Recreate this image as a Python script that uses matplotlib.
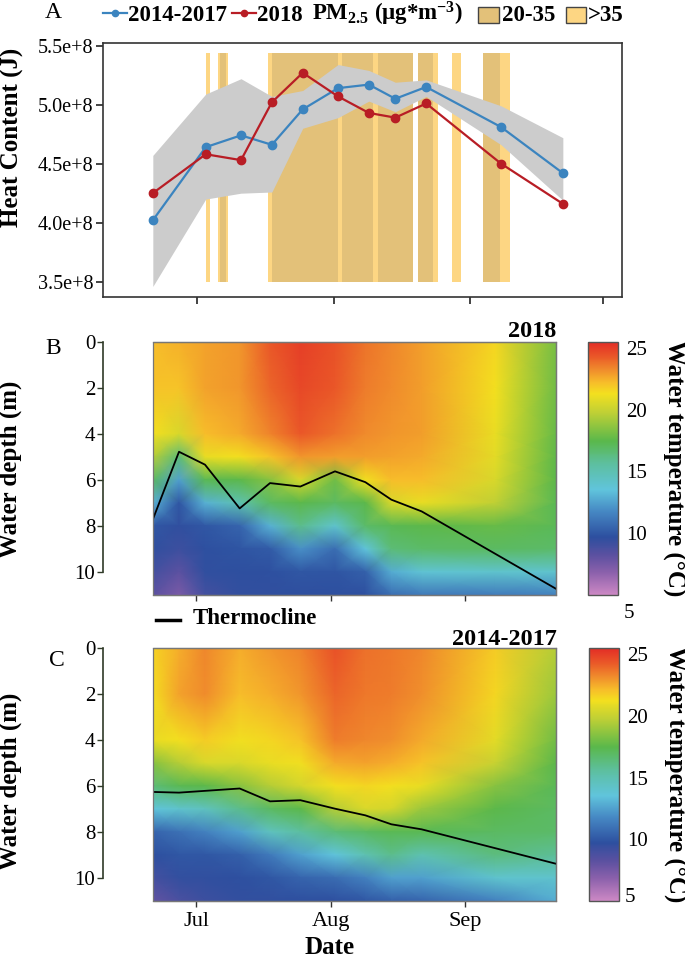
import numpy as np
import pandas as pd
import matplotlib
matplotlib.use("Agg")
import matplotlib.pyplot as plt
import matplotlib.dates as mdates
import matplotlib.transforms as mtransforms
from matplotlib.colors import LinearSegmentedColormap, Normalize
from matplotlib.lines import Line2D
from matplotlib.patches import Rectangle

plt.rcParams['font.family'] = ['Liberation Serif', 'DejaVu Serif']
plt.rcParams['mathtext.fontset'] = 'custom'
plt.rcParams['mathtext.rm'] = 'Liberation Serif:bold'
plt.rcParams['mathtext.it'] = 'Liberation Serif:italic:bold'
plt.rcParams['mathtext.bf'] = 'Liberation Serif:bold'

# ---------------- Panel A data ----------------
sample_dates = ["2018-06-21", "2018-07-03", "2018-07-11", "2018-07-18", "2018-07-25", "2018-08-02",
                "2018-08-09", "2018-08-15", "2018-08-22", "2018-09-08", "2018-09-22"]
heat_2014_2017 = [4.02, 4.64, 4.74, 4.66, 4.96, 5.14, 5.17, 5.05, 5.15, 4.81, 4.42]   # x1e8 J
heat_2018 = [4.25, 4.58, 4.53, 5.02, 5.27, 5.07, 4.93, 4.89, 5.01, 4.50, 4.16]        # x1e8 J
band_upper = [4.57, 5.09, 5.22, 5.07, 5.12, 5.34, 5.29, 5.19, 5.21, 4.99, 4.72]
band_lower = [3.46, 4.20, 4.25, 4.26, 4.80, 4.89, 5.03, 4.94, 5.07, 4.66, 4.19]

# PM2.5 episodes: start / end (days after 2018-07-01) and class
pm_start = [2.0, 4.85, 5.3, 6.6, 16.05, 17.1, 32.05, 32.8, 40.0, 41.0, 50.1, 53.6, 57.9, 64.95, 68.8]
pm_end = [2.9, 5.3, 6.6, 7.0, 17.1, 32.05, 32.8, 40.0, 41.0, 49.1, 53.6, 54.75, 59.9, 68.8, 71.0]
pm_class = [">35", ">35", "20-35", ">35", ">35", "20-35", ">35", "20-35", ">35", "20-35",
            "20-35", ">35", ">35", "20-35", ">35"]
pm_ymin, pm_ymax = 3.5, 5.44

# ---------------- Panels B / C data ----------------
heat_dates = ["2018-06-21", "2018-06-27", "2018-07-03", "2018-07-11", "2018-07-18", "2018-07-25",
              "2018-08-02", "2018-08-09", "2018-08-15", "2018-08-22", "2018-09-08", "2018-09-22"]
depths = [0, 2, 4, 5, 6, 7, 8, 9, 10, 11]

temp_2018 = [
    [22.2, 22.0, 21.3, 19.5, 17.0, 13.0, 10.0, 9.6, 9.0, 8.2],
    [22.4, 22.0, 20.5, 16.5, 12.5, 10.0, 9.6, 9.2, 8.2, 7.3],
    [22.7, 22.7, 22.2, 21.0, 17.3, 13.0, 10.0, 9.8, 9.6, 9.0],
    [23.0, 23.0, 22.6, 21.3, 17.5, 15.0, 10.5, 9.9, 9.7, 9.5],
    [24.3, 24.0, 23.4, 22.0, 18.5, 17.0, 13.0, 10.2, 9.8, 9.6],
    [25.0, 24.7, 24.3, 23.0, 20.5, 17.5, 16.0, 12.0, 10.0, 9.7],
    [24.5, 24.3, 23.8, 22.8, 18.0, 17.0, 14.0, 10.8, 9.9, 9.7],
    [23.7, 23.5, 23.2, 22.8, 21.2, 17.5, 16.8, 13.5, 10.3, 9.8],
    [23.3, 23.2, 23.0, 22.7, 22.2, 20.5, 17.3, 16.5, 12.8, 10.8],
    [22.8, 22.8, 22.8, 22.6, 22.2, 21.0, 17.5, 16.8, 13.8, 11.2],
    [21.5, 21.3, 21.0, 20.8, 20.5, 19.8, 17.8, 17.0, 14.0, 11.3],
    [18.2, 18.0, 17.8, 17.6, 17.5, 17.3, 17.2, 16.8, 14.0, 11.5],
]
temp_2014_2017 = [
    [21.6, 21.4, 21.0, 18.5, 16.5, 13.5, 10.5, 9.8, 9.0, 8.0],
    [22.5, 22.7, 21.3, 19.5, 17.3, 14.0, 11.0, 10.0, 9.5, 8.7],
    [23.3, 23.2, 21.8, 20.5, 17.5, 14.5, 11.5, 10.0, 9.6, 9.2],
    [22.5, 22.2, 21.2, 20.5, 18.5, 16.0, 12.5, 10.3, 9.8, 9.5],
    [23.0, 22.5, 21.5, 21.0, 19.5, 17.0, 14.5, 11.3, 10.0, 9.6],
    [23.4, 23.0, 22.0, 21.2, 20.3, 17.5, 15.5, 12.5, 10.5, 9.7],
    [24.5, 24.0, 23.5, 22.6, 21.3, 19.5, 16.5, 13.5, 10.8, 9.8],
    [23.8, 23.6, 23.3, 22.7, 21.5, 20.5, 17.0, 15.0, 11.5, 10.0],
    [23.6, 23.5, 23.1, 22.5, 21.3, 20.3, 17.3, 16.0, 12.5, 10.3],
    [23.3, 23.1, 22.6, 22.0, 21.0, 19.0, 17.3, 15.0, 12.5, 10.5],
    [21.8, 21.5, 20.8, 20.0, 18.5, 17.5, 17.0, 16.3, 14.0, 11.5],
    [19.5, 19.0, 18.0, 17.5, 17.2, 17.0, 16.8, 15.8, 14.0, 12.8],
]

thermo_2018_dates = ["2018-06-21", "2018-06-27", "2018-07-03", "2018-07-11", "2018-07-18", "2018-07-25",
                     "2018-08-02", "2018-08-09", "2018-08-15", "2018-08-22", "2018-09-22"]
thermo_2018 = [7.70, 4.78, 5.34, 7.24, 6.14, 6.29, 5.63, 6.10, 6.86, 7.37, 10.73]
thermo_clim_dates = ["2018-06-21", "2018-06-27", "2018-07-11", "2018-07-18", "2018-07-25",
                     "2018-08-02", "2018-08-09", "2018-08-15", "2018-08-22", "2018-09-22"]
thermo_clim = [6.26, 6.29, 6.11, 6.67, 6.62, 6.99, 7.28, 7.67, 7.89, 9.39]

month_ticks = ["2018-07-01", "2018-08-01", "2018-09-01"]
month_labels = ["Jul", "Aug", "Sep"]
colorbar_ticks = [10, 15, 20, 25]

# ---------------- styles ----------------
C_BLUE = "#3b84bf"
C_RED = "#b81d25"
C_TAN = "#e3c179"
C_LIGHT = "#fdd683"
C_BAND = "#cccccc"
cmap_nodes = [(5.0, "#cc88c4"), (6.8, "#8a60ab"), (8.2, "#5a50a0"), (9.7, "#2d4f9f"), (11.8, "#4689c4"),
              (13.5, "#60c4dc"), (15.6, "#5dbf9f"), (17.5, "#5ab84b"), (19.8, "#c0d035"),
              (21.3, "#f3e01f"), (22.2, "#f7bd2a"), (23.2, "#f08d2c"), (24.3, "#ea5a28"), (25.5, "#e32d26")]
VMIN, VMAX = 5.0, 25.5
cmap = LinearSegmentedColormap.from_list(
    "wt", [((v - VMIN) / (VMAX - VMIN), c) for v, c in cmap_nodes])
norm = Normalize(VMIN, VMAX)

W, H = 685, 960
fig = plt.figure(figsize=(W / 100, H / 100), dpi=100)


def rect(l, t, r, b):
    return [l / W, 1 - b / H, (r - l) / W, (b - t) / H]


def fx(x):
    return x / W


def fy(y):
    return 1 - y / H


def dnum(s):
    return mdates.date2num(pd.to_datetime(s))


# ---------------- Panel A ----------------
axA = fig.add_axes(rect(103, 42.7, 621.7, 296.7))
base = dnum("2018-07-01")
for s, e, c in zip(pm_start, pm_end, pm_class):
    axA.bar(base + s, (pm_ymax - pm_ymin) * 1e8, width=e - s, bottom=pm_ymin * 1e8, align='edge',
            color=C_TAN if c == "20-35" else C_LIGHT, lw=0, zorder=1)
xd = dnum(sample_dates)
axA.fill_between(xd, np.array(band_lower) * 1e8, np.array(band_upper) * 1e8, color=C_BAND, lw=0, zorder=2)
axA.plot(xd, np.array(heat_2014_2017) * 1e8, '-o', color=C_BLUE, lw=1.6, ms=6, zorder=4)
axA.plot(xd, np.array(heat_2018) * 1e8, '-o', color=C_RED, lw=1.6, ms=6, zorder=5)
axA.set_xlim(base - 21.3, base + 96.35)
axA.set_ylim(3.373e8, 5.525e8)
yt = [3.5e8, 4.0e8, 4.5e8, 5.0e8, 5.5e8]
axA.set_yticks(yt)
axA.set_yticklabels([f"{v / 1e8:.1f}e+8" for v in yt])
axA.set_xticks(dnum(["2018-07-01", "2018-08-01", "2018-09-01", "2018-10-01"]))
axA.set_xticklabels([])
axA.tick_params(axis='both', direction='out', length=5, width=1.2, color='#222222', pad=2, labelsize=14.5)
for sp in axA.spines.values():
    sp.set_color('#333333')
    sp.set_linewidth(1.2)

# legend of panel A (figure-level)
ly = 13
fig.add_artist(Line2D([fx(102.7), fx(126.7)], [fy(ly), fy(ly)], color=C_BLUE, lw=1.6))
fig.add_artist(Line2D([fx(114.7)], [fy(ly)], marker='o', color=C_BLUE, ms=4.5))
fig.text(fx(128.3), fy(21), "2014-2017", fontsize=16.5, fontweight='bold', va='baseline')
fig.add_artist(Line2D([fx(231.7), fx(255.7)], [fy(ly), fy(ly)], color=C_RED, lw=1.6))
fig.add_artist(Line2D([fx(243.7)], [fy(ly)], marker='o', color=C_RED, ms=4.5))
fig.text(fx(256.7), fy(21), "2018", fontsize=16.5, fontweight='bold', va='baseline')
fig.text(fx(311.7), fy(21), r"PM$_{2.5}$ (μg*m$^{-3}$)", fontsize=16.5, fontweight='bold', va='baseline')
fig.add_artist(Rectangle((fx(478.3), fy(23.3)), fx(20.7), 16.6 / H, facecolor=C_TAN,
                         edgecolor='#444444', lw=1.0, transform=fig.transFigure))
fig.text(fx(501.7), fy(21), "20-35", fontsize=16.5, fontweight='bold', va='baseline')
fig.add_artist(Rectangle((fx(565.7), fy(23.3)), fx(20.0), 16.6 / H, facecolor=C_LIGHT,
                         edgecolor='#444444', lw=1.0, transform=fig.transFigure))
fig.text(fx(588.3), fy(21), ">35", fontsize=16.5, fontweight='bold', va='baseline')

# ---------------- Panels B / C ----------------
X, Y = np.meshgrid(dnum(heat_dates), depths)


def heat_panel(box, cbox, temps, tdates, tdepth, show_labels, five_offset):
    ax = fig.add_axes(rect(*box))
    ax.spines['left'].set_position(('outward', 35.8))
    ax.spines['left'].set_bounds(0, 10)
    ax.spines['left'].set_color('#2f3a28')
    ax.spines['left'].set_linewidth(1.2)
    for k in ['top', 'right', 'bottom']:
        ax.spines[k].set_color('#777777')
        ax.spines[k].set_linewidth(0.9)
    m = ax.pcolormesh(X, Y, np.array(temps).T, shading='gouraud', cmap=cmap, norm=norm)
    ax.plot(dnum(tdates), tdepth, color='black', lw=1.3, zorder=3)
    ax.set_xlim(X[0, 0], X[0, -1])
    ax.set_ylim(11.0, 0)
    ax.set_yticks([0, 2, 4, 6, 8, 10])
    ax.set_yticklabels(["0", "2", "4", "6", "8", "10"])
    ax.set_xticks(dnum(month_ticks))
    if show_labels:
        ax.set_xticklabels(month_labels)
    else:
        ax.set_xticklabels([])
    ax.add_patch(Rectangle((0, 0), 1, 1, transform=ax.transAxes, fill=False,
                           ec='#777777', lw=0.9, zorder=6, clip_on=False))
    ax.tick_params(axis='y', direction='out', length=4.3, width=1.0, color='#2f3a28', pad=1.5, labelsize=15)
    ax.tick_params(axis='x', direction='out', length=4.3, width=1.0, color='#333333', pad=4, labelsize=16)

    cax = fig.add_axes(rect(*cbox))
    cb = fig.colorbar(m, cax=cax, ticks=colorbar_ticks)
    cb.outline.set_edgecolor('#555555')
    cb.outline.set_linewidth(1.0)
    cax.tick_params(length=0, pad=6, labelsize=15)
    tr = mtransforms.offset_copy(cax.get_yaxis_transform(), fig=fig, x=6, y=five_offset, units='dots')
    cax.text(1.0, 5, "5", transform=tr, fontsize=15, ha='left', va='center')
    return ax, cax


heat_panel((153, 341.7, 556, 595), (587.7, 341.7, 617.7, 595), temp_2018,
           thermo_2018_dates, thermo_2018, False, -18)
heat_panel((153, 648.3, 556, 900.7), (589, 648.3, 619, 900.7), temp_2014_2017,
           thermo_clim_dates, thermo_clim, True, 3)

# ---------------- texts ----------------
fig.text(fx(12), fy(137), "Heat Content (J)", rotation=90, fontsize=18, fontweight='bold',
         ha='center', va='center')
fig.text(fx(10), fy(469), "Water depth (m)", rotation=90, fontsize=18, fontweight='bold',
         ha='center', va='center')
fig.text(fx(10), fy(781), "Water depth (m)", rotation=90, fontsize=18, fontweight='bold',
         ha='center', va='center')
fig.text(fx(674), fy(468), "Water temperature (°C)", rotation=270, fontsize=18, fontweight='bold',
         ha='center', va='center')
fig.text(fx(675), fy(774), "Water temperature (°C)", rotation=270, fontsize=18, fontweight='bold',
         ha='center', va='center')
fig.text(fx(330), fy(947.5), "Date", fontsize=18, fontweight='bold', ha='center', va='center')
fig.text(fx(556), fy(337.3), "2018", fontsize=17.5, fontweight='bold', ha='right', va='baseline')
fig.text(fx(557), fy(645), "2014-2017", fontsize=17.5, fontweight='bold', ha='right', va='baseline')
fig.text(fx(53), fy(13), "A", fontsize=17, ha='center', va='center')
fig.text(fx(53), fy(348), "B", fontsize=17, ha='center', va='center')
fig.text(fx(57), fy(660), "C", fontsize=17, ha='center', va='center')

fig.add_artist(Line2D([fx(155.5), fx(179.6)], [fy(620), fy(620)], color='black', lw=2.5))
fig.text(fx(192.7), fy(619), "Thermocline", fontsize=16.5, fontweight='bold', ha='left', va='center')

fig.savefig("out.png", dpi=100)
